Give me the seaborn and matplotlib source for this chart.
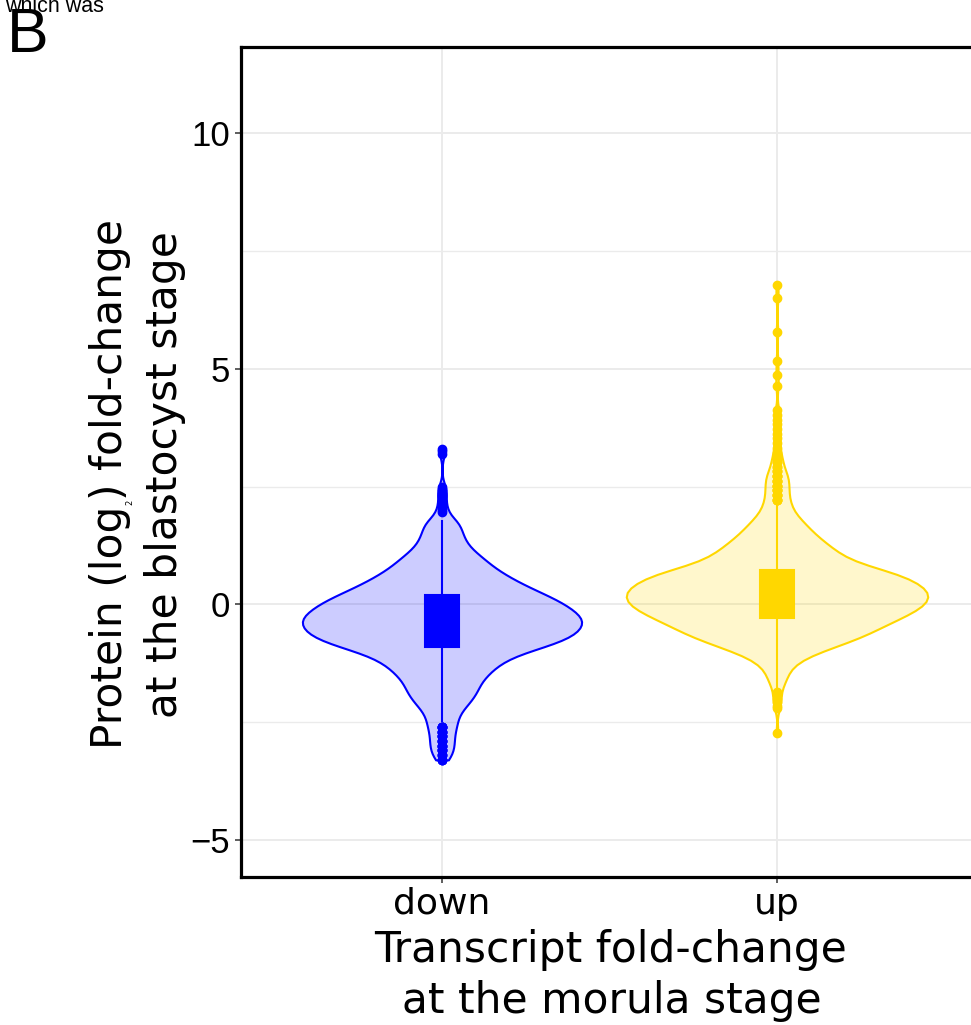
import numpy as np
import pandas as pd
import matplotlib
matplotlib.use("Agg")
import matplotlib.pyplot as plt
from matplotlib.colors import to_rgb
from matplotlib.transforms import IdentityTransform
import seaborn as sns

# ---- data -------------------------------------------------------------
categories = ["down", "up"]
group_colors = {"down": "#0000FF", "up": "#FFD700"}

# protein log2 fold-change values (binned) and how many genes fall in each bin
down_values = [-3.3, -3.2, -3.1, -3.0, -2.9, -2.8, -2.7, -2.6, -2.5, -2.4,
               -2.3, -2.2, -2.1, -2.0, -1.9, -1.8, -1.7, -1.6, -1.5, -1.4,
               -1.3, -1.2, -1.1, -1.0, -0.9, -0.8, -0.7, -0.6, -0.5, -0.4,
               -0.3, -0.2, -0.1, 0.0, 0.1, 0.2, 0.3, 0.4, 0.5, 0.6,
               0.7, 0.8, 0.9, 1.0, 1.1, 1.2, 1.3, 1.4, 1.5, 1.6,
               1.7, 1.8]
down_counts = [3, 3, 4, 4, 4, 4, 4, 5, 5, 5,
               6, 7, 9, 10, 11, 12, 12, 13, 15, 16,
               18, 20, 23, 27, 34, 38, 42, 44, 45, 46,
               46, 44, 42, 40, 37, 34, 30, 27, 24, 21,
               19, 16, 15, 13, 11, 9, 8, 7, 7, 6,
               6, 6]
down_extra = [1.95, 2.0, 2.05, 2.1, 2.15, 2.3, 2.35, 2.4, 2.45, 2.5,
              3.2, 3.25, 3.3]

up_values = [-1.68, -1.58, -1.48, -1.38, -1.28, -1.18, -1.08, -0.98, -0.88, -0.78,
             -0.68, -0.58, -0.48, -0.38, -0.28, -0.18, -0.08, 0.02, 0.12, 0.22,
             0.32, 0.42, 0.52, 0.62, 0.72, 0.82, 0.92, 1.02, 1.12, 1.22,
             1.32, 1.42, 1.52, 1.62, 1.72, 1.82, 1.92, 2.02, 2.12, 2.22,
             2.32, 2.42, 2.52, 2.62, 2.72, 2.82, 2.92, 3.02, 3.12, 3.22,
             3.32, 3.42, 3.52, 3.62, 3.72, 3.82, 3.92, 4.02, 4.12]
up_counts = [3, 3, 4, 4, 6, 8, 11, 16, 20, 25,
             29, 32, 35, 38, 42, 45, 48, 50, 51, 51,
             50, 48, 45, 42, 37, 29, 25, 22, 20, 18,
             16, 14, 12, 11, 9, 8, 6, 5, 5, 4,
             4, 4, 4, 4, 4, 3, 2, 2, 2, 1,
             1, 1, 1, 1, 1, 1, 1, 1, 1]
up_extra = [4.63, 4.86, 5.16, 5.78, 6.50, 6.77,
            -1.78, -1.85, -1.92, -2.0, -2.08, -2.15, -2.19, -2.72]

y_ticks = [-5, 0, 5, 10]
y_minor_ticks = [-2.5, 2.5, 7.5]


def expand(values, counts, extra):
    return np.concatenate([np.repeat(values, counts), np.asarray(extra, float)])


df = pd.concat([
    pd.DataFrame({"group": "down", "value": expand(down_values, down_counts, down_extra)}),
    pd.DataFrame({"group": "up", "value": expand(up_values, up_counts, up_extra)}),
], ignore_index=True)

# ---- figure -----------------------------------------------------------
sns.set_theme(style="white")
plt.rcParams["font.family"] = ["DejaVu Sans"]
plt.rcParams["axes.unicode_minus"] = True
plt.rcParams["text.color"] = "black"

W, H, DPI = 971, 1025, 100
fig = plt.figure(figsize=(W / DPI, H / DPI), dpi=DPI)
fig.patch.set_facecolor("white")
ax = fig.add_axes([241 / W, 1 - 877 / H, 737 / W, 830 / H])
ax.set_facecolor("white")

# no hue here, so both violins share one area normalisation
sns.violinplot(data=df, x="group", y="value", order=categories, color="0.5",
               inner=None, cut=0, density_norm="area", width=0.9, bw_method=0.14,
               linewidth=1.5, saturation=1, ax=ax)

# translucent fill, solid outline, coloured by group
for coll in ax.collections:
    paths = coll.get_paths()
    if not paths:
        continue
    xc = int(round(paths[0].vertices[:, 0].mean()))
    rgb = to_rgb(group_colors[categories[xc]])
    coll.set_facecolor((*rgb, 0.2))
    coll.set_edgecolor((*rgb, 1.0))
    coll.set_linewidth(1.5)

for cat in categories:
    c = group_colors[cat]
    sns.boxplot(data=df[df["group"] == cat], x="group", y="value", order=categories,
                color=c, saturation=1, width=0.1, linewidth=1.5, linecolor=c,
                whis=1.5, showcaps=False, fliersize=6,
                flierprops=dict(marker="o", markerfacecolor=c, markeredgecolor=c),
                ax=ax)

ax.set_xlim(-0.6, 1.6)
ax.set_ylim(-5.785, 11.825)
ax.set_yticks(y_ticks)
ax.set_yticks(y_minor_ticks, minor=True)
ax.set_xticks(range(len(categories)))
ax.set_xticklabels(categories)
ax.set_xlabel("")
ax.set_ylabel("")

ax.set_axisbelow(True)
ax.grid(True, which="major", color="#EBEBEB", linewidth=1.4)
ax.grid(True, which="minor", axis="y", color="#EBEBEB", linewidth=1.0)
ax.tick_params(which="minor", length=0)
ax.tick_params(axis="both", which="major", direction="out", length=4, width=1.1,
               color="#333333", bottom=True, left=True, labelcolor="black")
ax.tick_params(axis="x", labelsize=26, pad=3)
ax.tick_params(axis="y", labelsize=25, pad=4, labelfontfamily="Liberation Sans")

for side in ["left", "right", "top", "bottom"]:
    ax.spines[side].set_visible(True)
    ax.spines[side].set_color("black")
    ax.spines[side].set_linewidth(2.3)

# ---- text -------------------------------------------------------------
px = IdentityTransform()
fig.text(611, H - 962, "Transcript fold-change", fontsize=30.5, ha="center",
         va="baseline", transform=px)
fig.text(612, H - 1013, "at the morula stage", fontsize=30.5, ha="center",
         va="baseline", transform=px)

ylab_size = 30.5
fig.text(177, H - 475, "at the blastocyst stage", fontsize=ylab_size, rotation=90,
         rotation_mode="anchor", ha="center", va="baseline", transform=px)

renderer = fig.canvas.get_renderer()


def text_width(s, size):
    t = fig.text(0, 0, s, fontsize=size)
    w = t.get_window_extent(renderer).width
    t.remove()
    return w


# first y-title line with a small log base subscript
pieces = [("Protein (log", ylab_size, 0), ("2", 6, 10), (") fold-change", ylab_size, 0)]
widths = [text_width(s, sz) for s, sz, _ in pieces]
base_x, center_y = 122, H - 484
start = center_y - sum(widths) / 2
for (s, sz, drop), w in zip(pieces, widths):
    fig.text(base_x + drop, start, s, fontsize=sz, rotation=90, rotation_mode="anchor",
             ha="left", va="baseline", transform=px)
    start += w

fig.text(7, H - 52, "B", fontsize=45, family="Liberation Sans", va="baseline",
         transform=px)
fig.text(5, H - 11.7, "which was", fontsize=15.5, family="Liberation Sans",
         va="baseline", transform=px)

fig.savefig("out.png", dpi=DPI, facecolor="white")
